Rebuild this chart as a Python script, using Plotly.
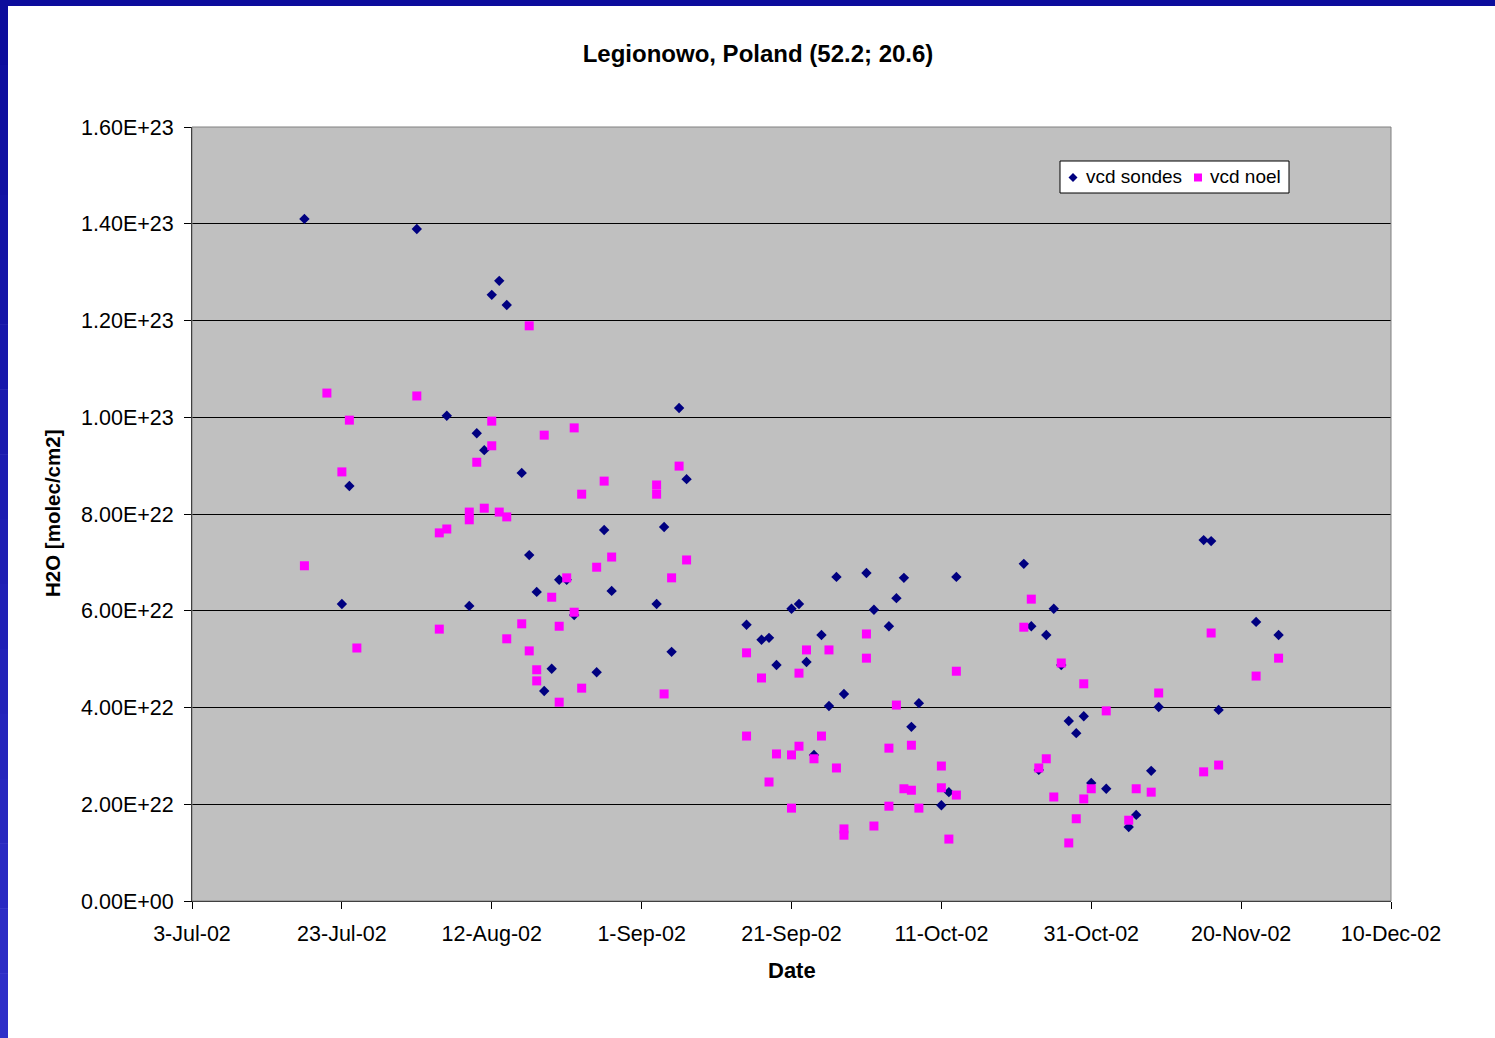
import plotly.graph_objects as go

# ---------------- data ----------------
sondes_dates = [
    "2002-07-18", "2002-07-23", "2002-07-24", "2002-08-02", "2002-08-06", "2002-08-09",
    "2002-08-10", "2002-08-11", "2002-08-12", "2002-08-13", "2002-08-14", "2002-08-16",
    "2002-08-17", "2002-08-18", "2002-08-19", "2002-08-20", "2002-08-21", "2002-08-22",
    "2002-08-23", "2002-08-26", "2002-08-27", "2002-08-28", "2002-09-03", "2002-09-04",
    "2002-09-05", "2002-09-06", "2002-09-07", "2002-09-15", "2002-09-17", "2002-09-18",
    "2002-09-19", "2002-09-21", "2002-09-22", "2002-09-23", "2002-09-24", "2002-09-25",
    "2002-09-26", "2002-09-27", "2002-09-28", "2002-10-01", "2002-10-02", "2002-10-04",
    "2002-10-05", "2002-10-06", "2002-10-07", "2002-10-08", "2002-10-11", "2002-10-12",
    "2002-10-13", "2002-10-22", "2002-10-23", "2002-10-24", "2002-10-25", "2002-10-26",
    "2002-10-27", "2002-10-28", "2002-10-29", "2002-10-30", "2002-10-31", "2002-11-02",
    "2002-11-05", "2002-11-06", "2002-11-08", "2002-11-09", "2002-11-15", "2002-11-16",
    "2002-11-17", "2002-11-22", "2002-11-25",
]
sondes_vcd = [
    14.10e22, 6.14e22, 8.58e22, 13.89e22, 10.03e22, 6.10e22,
    9.67e22, 9.32e22, 12.53e22, 12.82e22, 12.32e22, 8.85e22,
    7.15e22, 6.39e22, 4.34e22, 4.80e22, 6.64e22, 6.64e22,
    5.91e22, 4.73e22, 7.67e22, 6.41e22, 6.14e22, 7.73e22,
    5.15e22, 10.19e22, 8.72e22, 5.71e22, 5.40e22, 5.44e22,
    4.88e22, 6.04e22, 6.14e22, 4.94e22, 3.02e22, 5.50e22,
    4.03e22, 6.70e22, 4.28e22, 6.78e22, 6.02e22, 5.68e22,
    6.26e22, 6.68e22, 3.60e22, 4.09e22, 1.98e22, 2.25e22,
    6.70e22, 6.97e22, 5.68e22, 2.71e22, 5.50e22, 6.04e22,
    4.88e22, 3.72e22, 3.47e22, 3.82e22, 2.44e22, 2.32e22,
    1.53e22, 1.78e22, 2.69e22, 4.01e22, 7.46e22, 7.44e22,
    3.95e22, 5.77e22, 5.50e22,
]

noel_dates = [
    "2002-07-18", "2002-07-21", "2002-07-23", "2002-07-24", "2002-07-25", "2002-08-02",
    "2002-08-05", "2002-08-05", "2002-08-06", "2002-08-09", "2002-08-09", "2002-08-10",
    "2002-08-11", "2002-08-12", "2002-08-12", "2002-08-13", "2002-08-14", "2002-08-14",
    "2002-08-16", "2002-08-17", "2002-08-17", "2002-08-18", "2002-08-18", "2002-08-19",
    "2002-08-20", "2002-08-21", "2002-08-21", "2002-08-22", "2002-08-23", "2002-08-23",
    "2002-08-24", "2002-08-24", "2002-08-26", "2002-08-27", "2002-08-28", "2002-09-03",
    "2002-09-03", "2002-09-04", "2002-09-05", "2002-09-06", "2002-09-07", "2002-09-15",
    "2002-09-15", "2002-09-17", "2002-09-18", "2002-09-19", "2002-09-21", "2002-09-21",
    "2002-09-22", "2002-09-22", "2002-09-23", "2002-09-24", "2002-09-25", "2002-09-26",
    "2002-09-27", "2002-09-28", "2002-09-28", "2002-10-01", "2002-10-01", "2002-10-02",
    "2002-10-04", "2002-10-04", "2002-10-05", "2002-10-06", "2002-10-07", "2002-10-07",
    "2002-10-08", "2002-10-11", "2002-10-11", "2002-10-12", "2002-10-13", "2002-10-13",
    "2002-10-22", "2002-10-23", "2002-10-24", "2002-10-25", "2002-10-26", "2002-10-27",
    "2002-10-28", "2002-10-29", "2002-10-30", "2002-10-30", "2002-10-31", "2002-11-02",
    "2002-11-05", "2002-11-06", "2002-11-08", "2002-11-09", "2002-11-15", "2002-11-16",
    "2002-11-17", "2002-11-22", "2002-11-25",
]
noel_vcd = [
    6.93e22, 10.50e22, 8.87e22, 9.94e22, 5.23e22, 10.44e22,
    5.62e22, 7.61e22, 7.69e22, 8.04e22, 7.88e22, 9.07e22,
    8.12e22, 9.92e22, 9.41e22, 8.04e22, 7.94e22, 5.42e22,
    5.73e22, 11.89e22, 5.17e22, 4.78e22, 4.55e22, 9.63e22,
    6.28e22, 5.68e22, 4.11e22, 6.68e22, 9.78e22, 5.97e22,
    8.41e22, 4.40e22, 6.90e22, 8.68e22, 7.11e22, 8.60e22,
    8.41e22, 4.28e22, 6.68e22, 8.99e22, 7.05e22, 5.13e22,
    3.41e22, 4.61e22, 2.46e22, 3.04e22, 3.02e22, 1.92e22,
    4.71e22, 3.20e22, 5.19e22, 2.94e22, 3.41e22, 5.19e22,
    2.75e22, 1.49e22, 1.36e22, 5.52e22, 5.02e22, 1.55e22,
    3.16e22, 1.96e22, 4.05e22, 2.32e22, 3.22e22, 2.29e22,
    1.92e22, 2.79e22, 2.34e22, 1.28e22, 4.75e22, 2.19e22,
    5.66e22, 6.24e22, 2.75e22, 2.94e22, 2.15e22, 4.92e22,
    1.20e22, 1.70e22, 4.49e22, 2.11e22, 2.32e22, 3.93e22,
    1.67e22, 2.32e22, 2.25e22, 4.30e22, 2.67e22, 5.54e22,
    2.81e22, 4.65e22, 5.02e22,
]

x_tick_vals = ["2002-07-03", "2002-07-23", "2002-08-12", "2002-09-01", "2002-09-21",
               "2002-10-11", "2002-10-31", "2002-11-20", "2002-12-10"]
x_tick_text = ["3-Jul-02", "23-Jul-02", "12-Aug-02", "1-Sep-02", "21-Sep-02",
               "11-Oct-02", "31-Oct-02", "20-Nov-02", "10-Dec-02"]
y_tick_vals = [0, 2e22, 4e22, 6e22, 8e22, 1e23, 1.2e23, 1.4e23, 1.6e23]
y_tick_text = ["0.00E+00", "2.00E+22", "4.00E+22", "6.00E+22", "8.00E+22",
               "1.00E+23", "1.20E+23", "1.40E+23", "1.60E+23"]

series_names = ["vcd sondes", "vcd noel"]
title_text = "Legionowo, Poland (52.2; 20.6)"
x_title = "Date"
y_title = "H2O [molec/cm2]"

# ---------------- figure ----------------
W, H = 1495, 1038
L, R, T, B = 192, 104, 127, 137
PW, PH = W - L - R, H - T - B

def px(xp):
    return (xp - L) / PW

def py(yp):
    return (H - B - yp) / PH

FONT = "Liberation Sans, Arial, Helvetica, sans-serif"
NAVY = "#000080"
MAGENTA = "#FF00FF"

fig = go.Figure()
fig.add_trace(go.Scatter(
    x=sondes_dates, y=sondes_vcd, mode="markers", name=series_names[0],
    marker=dict(symbol="diamond", size=8, color=NAVY, line=dict(width=0)),
))
fig.add_trace(go.Scatter(
    x=noel_dates, y=noel_vcd, mode="markers", name=series_names[1],
    marker=dict(symbol="square", size=9, color=MAGENTA, line=dict(width=0)),
))

shapes = []
# plot-area frame
shapes.append(dict(type="rect", xref="paper", yref="paper", x0=0, x1=1, y0=0, y1=1,
                   line=dict(color="#808080", width=1), layer="above"))
# blue slide frame: top strip
shapes.append(dict(type="rect", xref="paper", yref="paper",
                   x0=px(0), x1=px(W), y0=py(6), y1=py(0),
                   line=dict(width=0), fillcolor="#0c0c9c", layer="above"))
# blue slide frame: left strip with vertical gradient
n = 16
c0, c1 = (12, 12, 156), (46, 46, 200)
for i in range(n):
    t = i / (n - 1)
    col = "rgb(%d,%d,%d)" % tuple(round(a + (b - a) * t) for a, b in zip(c0, c1))
    shapes.append(dict(type="rect", xref="paper", yref="paper",
                       x0=px(0), x1=px(8),
                       y0=py(H * (i + 1) / n + 0.5), y1=py(H * i / n),
                       line=dict(width=0), fillcolor=col, layer="above"))

# legend box (drawn by hand to mimic the Excel legend)
shapes.append(dict(type="rect", xref="paper", yref="paper",
                   x0=px(1060), x1=px(1289), y0=py(193), y1=py(161),
                   line=dict(color="black", width=1), fillcolor="white", layer="above"))
cx, cy, r = 1073, 177.5, 4.5
shapes.append(dict(type="path", xref="paper", yref="paper",
                   path="M %f %f L %f %f L %f %f L %f %f Z" % (
                       px(cx - r), py(cy), px(cx), py(cy - r),
                       px(cx + r), py(cy), px(cx), py(cy + r)),
                   line=dict(width=0), fillcolor=NAVY, layer="above"))
sx, sy, s = 1198, 177.5, 4
shapes.append(dict(type="rect", xref="paper", yref="paper",
                   x0=px(sx - s), x1=px(sx + s), y0=py(sy + s), y1=py(sy - s),
                   line=dict(width=0), fillcolor=MAGENTA, layer="above"))

fig.update_layout(
    width=W, height=H,
    margin=dict(l=L, r=R, t=T, b=B, autoexpand=False),
    paper_bgcolor="white",
    plot_bgcolor="#C0C0C0",
    font=dict(family=FONT, color="black"),
    showlegend=False,
    title=dict(text="<b>%s</b>" % title_text, font=dict(size=24, family=FONT, color="black"),
               x=758 / W, xref="container", xanchor="center",
               y=1 - 54 / H, yref="container", yanchor="middle"),
    xaxis=dict(
        type="date", range=[x_tick_vals[0], x_tick_vals[-1]],
        tickmode="array", tickvals=x_tick_vals, ticktext=x_tick_text,
        showgrid=False, zeroline=False,
        showline=True, linecolor="black", linewidth=1,
        ticks="outside", ticklen=7, tickcolor="black", tickwidth=1,
        tickfont=dict(size=21.5, family=FONT, color="black"),
        ticklabelstandoff=6,
    ),
    yaxis=dict(
        range=[0, 1.6e23],
        tickmode="array", tickvals=y_tick_vals, ticktext=y_tick_text,
        showgrid=True, gridcolor="black", gridwidth=1, zeroline=False,
        showline=True, linecolor="black", linewidth=1,
        ticks="outside", ticklen=7, tickcolor="black", tickwidth=1,
        tickfont=dict(size=21.5, family=FONT, color="black"),
        ticklabelstandoff=6,
    ),
    shapes=shapes,
    annotations=[
        dict(text="<b>%s</b>" % x_title, xref="paper", yref="paper",
             x=px(792), y=py(970), xanchor="center", yanchor="middle",
             showarrow=False, font=dict(size=22, family=FONT, color="black")),
        dict(text="<b>%s</b>" % y_title, xref="paper", yref="paper",
             x=px(52), y=0.5, xanchor="center", yanchor="middle", textangle=-90,
             showarrow=False, font=dict(size=20.5, family=FONT, color="black")),
        dict(text=series_names[0], xref="paper", yref="paper",
             x=px(1084), y=py(177), xanchor="left", yanchor="middle",
             showarrow=False, font=dict(size=19, family=FONT, color="black")),
        dict(text=series_names[1], xref="paper", yref="paper",
             x=px(1208), y=py(177), xanchor="left", yanchor="middle",
             showarrow=False, font=dict(size=19, family=FONT, color="black")),
    ],
)

fig.write_html("out.html", config={"displayModeBar": False},
               post_script="document.body.style.margin='0';")
